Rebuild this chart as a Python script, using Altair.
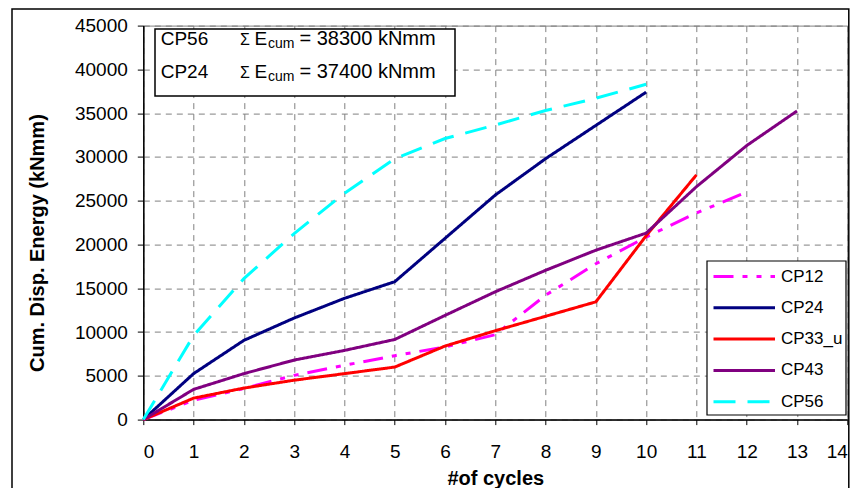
import altair as alt
import pandas as pd

# ---------------- data ----------------
series_names = ["CP12", "CP24", "CP33_u", "CP43", "CP56"]
series_colors = ["#FF00FF", "#000080", "#FF0000", "#800080", "#00FFFF"]
series_dashes = [[20, 9, 5, 9, 5, 9], [1, 0], [1, 0], [1, 0], [22, 12]]

cyc_cp12 = [0, 1, 2, 3, 4, 5, 6, 7, 8, 9, 10, 11, 12]
val_cp12 = [0, 2200, 3550, 5050, 6200, 7300, 8300, 9700, 14200, 17800, 20850, 23600, 26000]

cyc_cp24 = [0, 1, 2, 3, 4, 5, 6, 7, 8, 9, 10]
val_cp24 = [0, 5250, 9050, 11600, 13850, 15750, 20700, 25650, 29800, 33600, 37400]

cyc_cp33 = [0, 1, 2, 3, 4, 5, 6, 7, 8, 9, 10, 11]
val_cp33 = [0, 2450, 3600, 4500, 5250, 6000, 8400, 10150, 11800, 13450, 21000, 27950]

cyc_cp43 = [0, 1, 2, 3, 4, 5, 6, 7, 8, 9, 10, 11, 12, 13]
val_cp43 = [0, 3450, 5250, 6800, 7900, 9150, 11900, 14600, 17050, 19350, 21300, 26600, 31300, 35250]

cyc_cp56 = [0, 1, 2, 3, 4, 5, 6, 7, 8, 9, 10]
val_cp56 = [0, 9600, 16100, 21250, 25850, 29800, 32100, 33650, 35300, 36700, 38300]

x_ticks = [0, 1, 2, 3, 4, 5, 6, 7, 8, 9, 10, 11, 12, 13, 14]
y_ticks = [0, 5000, 10000, 15000, 20000, 25000, 30000, 35000, 40000, 45000]

note_names = ["CP56", "CP24"]
note_values = ["= 38300 kNmm", "= 37400 kNmm"]

x_title = "#of cycles"
y_title = "Cum. Disp. Energy (kNmm)"

# ---------------- build table ----------------
rows = []
for name, xs, ys in [("CP12", cyc_cp12, val_cp12), ("CP24", cyc_cp24, val_cp24),
                     ("CP33_u", cyc_cp33, val_cp33), ("CP43", cyc_cp43, val_cp43),
                     ("CP56", cyc_cp56, val_cp56)]:
    for xv, yv in zip(xs, ys):
        rows.append({"series": name, "cycle": xv, "energy": yv})
df = pd.DataFrame(rows)

FONT = "Liberation Sans"
W, H = 704, 394
one = pd.DataFrame({"k": [0]})

leg = alt.Legend(title=None, orient="none", legendX=563.7, legendY=235.4,
                 symbolType="M-3,0H17.5", symbolSize=36, symbolStrokeWidth=3,
                 labelOffset=50,
                 labelFontSize=17, labelFont=FONT, labelColor="black",
                 padding=7, rowPadding=13.3)

frame = alt.Chart(one).mark_rect(filled=False, stroke="black", strokeWidth=1.5).encode(
    x=alt.value(-131.3), x2=alt.value(705.5), y=alt.value(-16.6), y2=alt.value(480)
)

lines = alt.Chart(df).mark_line(strokeWidth=3).encode(
    x=alt.X("cycle:Q", scale=alt.Scale(domain=[0, 14], nice=False),
            axis=alt.Axis(values=x_ticks, title=x_title, format="d",
                          tickSize=5, labelPadding=18,
                          titleY=65, titleBaseline="alphabetic")),
    y=alt.Y("energy:Q", scale=alt.Scale(domain=[0, 45000], nice=False),
            axis=alt.Axis(values=y_ticks, title=y_title, format="d",
                          tickSize=6, labelPadding=10,
                          titleX=-99.5, titleY=217, titleBaseline="alphabetic",
                          titleAngle=270, titleAlign="center")),
    color=alt.Color("series:N", scale=alt.Scale(domain=series_names, range=series_colors), legend=leg),
    strokeDash=alt.StrokeDash("series:N", scale=alt.Scale(domain=series_names, range=series_dashes), legend=leg),
)

legend_box = alt.Chart(one).mark_rect(fill="white", stroke="black", strokeWidth=1.2).encode(
    x=alt.value(563.7), x2=alt.value(702.7), y=alt.value(235.4), y2=alt.value(389.4)
)

box = alt.Chart(one).mark_rect(fill="white", stroke="black", strokeWidth=1.5).encode(
    x=alt.value(11.7), x2=alt.value(311.7), y=alt.value(3.4), y2=alt.value(70.4)
)

texts = []
row_base = [45.0 - 25.6, 78.3 - 25.6]
for i in range(2):
    b = row_base[i]
    texts.append(alt.Chart(one).mark_text(text=note_names[i], align="left", baseline="alphabetic",
                                          font=FONT, fontSize=19, color="black").encode(
        x=alt.value(160.7 - 143.3), y=alt.value(b)))
    texts.append(alt.Chart(one).mark_text(text="Σ", align="left", baseline="alphabetic",
                                          font=FONT, fontSize=16, color="black").encode(
        x=alt.value(240 - 143.3), y=alt.value(b)))
    texts.append(alt.Chart(one).mark_text(text="E", align="left", baseline="alphabetic",
                                          font=FONT, fontSize=19, color="black").encode(
        x=alt.value(254.5 - 143.3), y=alt.value(b)))
    texts.append(alt.Chart(one).mark_text(text="cum", align="left", baseline="alphabetic",
                                          font=FONT, fontSize=14, color="black").encode(
        x=alt.value(268 - 143.3), y=alt.value(b + 3)))
    texts.append(alt.Chart(one).mark_text(text=note_values[i], align="left", baseline="alphabetic",
                                          font=FONT, fontSize=20, color="black").encode(
        x=alt.value(299.5 - 143.3), y=alt.value(b)))

chart = alt.layer(frame, lines, legend_box, box, *texts).properties(
    width=W, height=H,
    autosize=alt.AutoSizeParams(type="none"),
    padding={"left": 135.3, "top": 17.6, "right": 3.7, "bottom": 68.4},
    background="white",
).configure_view(
    stroke="#808080", strokeWidth=1
).configure_axis(
    labelFont=FONT, labelFontSize=19, labelColor="black",
    titleFont=FONT, titleFontSize=20, titleFontWeight="bold", titleColor="black",
    tickColor="black", domainColor="black", domainWidth=1.5, tickWidth=1,
    grid=True, gridColor="#808080", gridDash=[6, 5], gridWidth=1,
)

chart.save("out.html", embed_options={"renderer": "svg", "actions": False})
